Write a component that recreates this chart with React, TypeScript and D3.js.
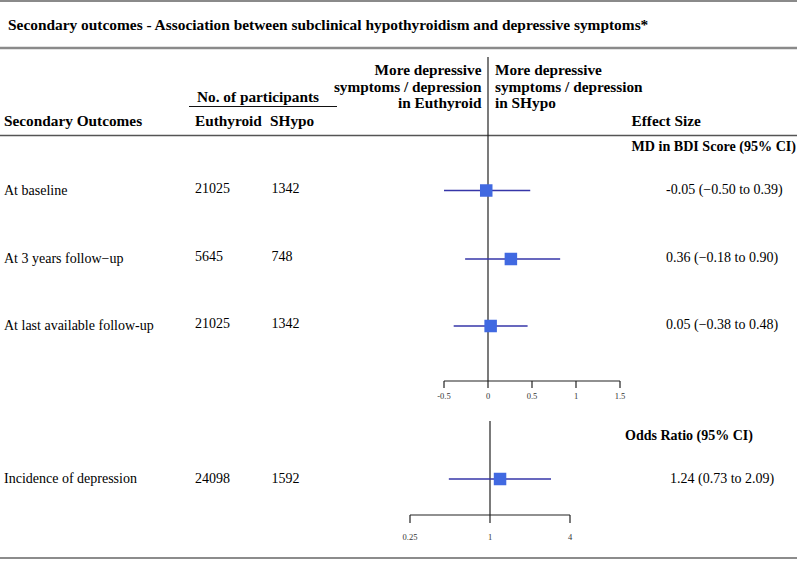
import React from "react";
import * as d3 from "d3";

const W = 797;
const H = 561;

// MD rows (BDI score)
const mdLabels = ["At baseline", "At 3 years follow\u2212up", "At last available follow-up"];
const mdEuthyroid = ["21025", "5645", "21025"];
const mdSHypo = ["1342", "748", "1342"];
const mdEst = [-0.02, 0.26, 0.03];
const mdLow = [-0.5, -0.26, -0.39];
const mdHigh = [0.48, 0.82, 0.45];
const mdText = [
  "-0.05 (\u22120.50 to 0.39)",
  "0.36 (\u22120.18 to 0.90)",
  "0.05 (\u22120.38 to 0.48)",
];
const mdTicks = [-0.5, 0, 0.5, 1, 1.5];

// OR row
const orLabels = ["Incidence of depression"];
const orEuthyroid = ["24098"];
const orSHypo = ["1592"];
const orEst = [1.19];
const orLow = [0.49];
const orHigh = [2.88];
const orText = ["1.24 (0.73 to 2.09)"];
const orTicks = [0.25, 1, 4];

const serif = "'Liberation Serif', 'Times New Roman', serif";
const SQ = "#4169E1";
const CI = "#3636A8";
const HB = 15.3; // bold header size
const BT = 14; // body text size

export default function App() {
  const xMD = d3.scaleLinear().domain([-0.5, 1.5]).range([444, 620]);
  const xOR = d3.scaleLog().base(2).domain([0.25, 4]).range([410, 570]);
  const mdY = [190.5, 259, 326];
  const orY = [479];
  const sq = 12.5;

  return (
    <svg width={W} height={H} style={{ display: "block", position: "absolute", left: 0, top: 0 }} fontFamily={serif}>
      <rect width={W} height={H} fill="#fff" />
      {/* frame lines */}
      <line x1={0} x2={W} y1={1} y2={1} stroke="#8a8a8a" strokeWidth={2} />
      <line x1={0} x2={W} y1={48} y2={48} stroke="#8a8a8a" strokeWidth={2.5} />
      <text x={8} y={29.5} fontSize={15.4} fontWeight="bold">
        Secondary outcomes - Association between subclinical hypothyroidism and depressive symptoms*
      </text>

      {/* header */}
      <text x={4} y={126} fontSize={HB} fontWeight="bold">Secondary Outcomes</text>
      <text x={197} y={101.5} fontSize={HB} fontWeight="bold">No. of participants</text>
      <line x1={189} x2={337} y1={106.5} y2={106.5} stroke="#111" strokeWidth={1.2} />
      <text x={195} y={126} fontSize={HB} fontWeight="bold">Euthyroid</text>
      <text x={270} y={126} fontSize={HB} fontWeight="bold">SHypo</text>
      <g fontSize={HB} fontWeight="bold">
        <text x={481.5} y={75} textAnchor="end">More depressive</text>
        <text x={481.5} y={91.5} textAnchor="end">symptoms / depression</text>
        <text x={481.5} y={108} textAnchor="end">in Euthyroid</text>
        <text x={495} y={75}>More depressive</text>
        <text x={495} y={91.5}>symptoms / depression</text>
        <text x={495} y={108}>in SHypo</text>
      </g>
      <text x={631.5} y={126} fontSize={HB} fontWeight="bold">Effect Size</text>
      <line x1={0} x2={W} y1={135.5} y2={135.5} stroke="#555" strokeWidth={1.3} />
      <text x={631.5} y={151} fontSize={14.1} fontWeight="bold">MD in BDI Score (95% CI)</text>

      {/* MD panel */}
      <line x1={xMD(0)} x2={xMD(0)} y1={57} y2={381} stroke="#222" strokeWidth={1.2} />
      {mdLabels.map((lab, i) => (
        <g key={lab}>
          <text x={4} y={mdY[i] + 4} fontSize={BT}>{lab}</text>
          <text x={195} y={mdY[i] + 2} fontSize={BT}>{mdEuthyroid[i]}</text>
          <text x={271.5} y={mdY[i] + 2} fontSize={BT}>{mdSHypo[i]}</text>
          <text x={666} y={mdY[i] + 3} fontSize={BT}>{mdText[i]}</text>
          <line x1={xMD(mdLow[i])} x2={xMD(mdHigh[i])} y1={mdY[i]} y2={mdY[i]} stroke={CI} strokeWidth={1.6} />
          <rect x={xMD(mdEst[i]) - sq / 2} y={mdY[i] - sq / 2} width={sq} height={sq} fill={SQ} />
        </g>
      ))}
      <line x1={xMD(-0.5)} x2={xMD(1.5)} y1={381} y2={381} stroke="#222" strokeWidth={1.2} />
      {mdTicks.map((t) => (
        <g key={t}>
          <line x1={xMD(t)} x2={xMD(t)} y1={381} y2={388} stroke="#222" strokeWidth={1.2} />
          <text x={xMD(t)} y={399} fontSize={8.5} fill="#333" textAnchor="middle">{String(t)}</text>
        </g>
      ))}

      {/* OR panel */}
      <text x={625} y={440} fontSize={14} fontWeight="bold">Odds Ratio (95% CI)</text>
      <line x1={xOR(1)} x2={xOR(1)} y1={421} y2={515} stroke="#222" strokeWidth={1.2} />
      {orLabels.map((lab, i) => (
        <g key={lab}>
          <text x={4} y={orY[i] + 4} fontSize={BT}>{lab}</text>
          <text x={195} y={orY[i] + 4} fontSize={BT}>{orEuthyroid[i]}</text>
          <text x={271.5} y={orY[i] + 4} fontSize={BT}>{orSHypo[i]}</text>
          <text x={670} y={orY[i] + 4} fontSize={BT}>{orText[i]}</text>
          <line x1={xOR(orLow[i])} x2={xOR(orHigh[i])} y1={orY[i]} y2={orY[i]} stroke={CI} strokeWidth={1.6} />
          <rect x={xOR(orEst[i]) - sq / 2} y={orY[i] - sq / 2} width={sq} height={sq} fill={SQ} />
        </g>
      ))}
      <line x1={xOR(0.25)} x2={xOR(4)} y1={515} y2={515} stroke="#222" strokeWidth={1.2} />
      {orTicks.map((t) => (
        <g key={t}>
          <line x1={xOR(t)} x2={xOR(t)} y1={515} y2={523} stroke="#222" strokeWidth={1.2} />
          <text x={xOR(t)} y={539.5} fontSize={8.5} fill="#333" textAnchor="middle">{String(t)}</text>
        </g>
      ))}

      <line x1={0} x2={W} y1={558} y2={558} stroke="#666" strokeWidth={1.5} />
    </svg>
  );
}
